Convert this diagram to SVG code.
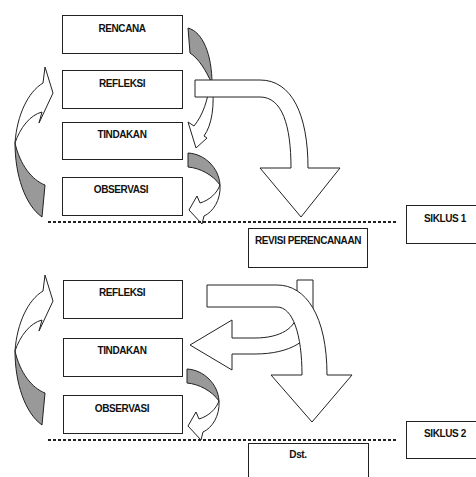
<svg xmlns="http://www.w3.org/2000/svg" xmlns:xlink="http://www.w3.org/1999/xlink" width="476" height="477" viewBox="0 0 476 477">
<style>
.box{fill:#fff;stroke:#222;stroke-width:1}
.lbl{font-family:"Liberation Sans",Arial,sans-serif;font-weight:bold;font-size:10px;fill:#111;text-anchor:middle;letter-spacing:-0.4px}
.w{fill:#fff;stroke:#222;stroke-width:1;stroke-linejoin:round}
.g{fill:#999;stroke:#222;stroke-width:1;stroke-linejoin:round}
.dash{stroke:#222;stroke-width:2;stroke-dasharray:3 2;fill:none}
</style>
<defs>
<g id="leftArrow">
<path class="g" d="M15,143 C15,175 25,205 42,217 L45,185 C32,180 20,165 15,143 Z"/>
<path class="w" d="M15,143 C17,115 28,92 43,83 L45,67 L53,93 L39,123 L42,112 C30,115 20,128 15,143 Z"/>
</g>
<g id="smallTurn">
<path class="g" d="M188,153 C205,154 219,168 220,185 C213,175 200,168 188,167 Z"/>
<path class="w" d="M220,185 C221,200 213,212 204,216 L202,224 L189,210 L197,196 L200,203 C210,200 217,193 220,185 Z"/>
</g>
</defs>
<rect width="476" height="477" fill="#fff"/>

<g id="connectors">
<!-- cycle 1 -->
<use xlink:href="#leftArrow"/>
<path class="g" d="M188,28 C203,32 212,55 212,84 C206,70 198,58 190,53 Z"/>
<path class="w" d="M212,82 C215,105 212,125 204,136 L207,138 L196,148 L188,122 L194,126 C203,115 208,100 210,82 Z"/>
<use xlink:href="#smallTurn"/>
<path class="w" d="M195,80 L260,80 C292,80 308,115 308,168 L340,168 L301,217 L260,168 L291,168 C291,125 282,97 260,97 L195,97 Z"/>
<line class="dash" x1="48" y1="222" x2="398" y2="222"/>
<!-- cycle 2 -->
<use xlink:href="#leftArrow" transform="translate(0,208)"/>
<use xlink:href="#smallTurn" transform="translate(-1,216)"/>
<path class="w" d="M297,280 L313,280 L313,320 C313,340 290,354 255,354 L232,354 L232,370 L190,345 L232,320 L232,338 L255,338 C280,338 297,328 297,312 Z"/>
<path class="w" d="M207,285 L277,285 C306,285 327,316 327,375 L352,375 L312,422 L271,375 L302,375 C302,335 293,307 277,307 L207,307 Z"/>
<line class="dash" x1="48" y1="440" x2="398" y2="440"/>
</g>

<g id="rencana"><rect class="box" x="62.5" y="15.5" width="120" height="38"/><text class="lbl" x="122" y="32">RENCANA</text></g>
<g id="refleksi1"><rect class="box" x="62.5" y="70.5" width="120" height="38"/><text class="lbl" x="122" y="87">REFLEKSI</text></g>
<g id="tindakan1"><rect class="box" x="62.5" y="122.5" width="120" height="37"/><text class="lbl" x="122" y="138">TINDAKAN</text></g>
<g id="observasi1"><rect class="box" x="62.5" y="177.5" width="120" height="38"/><text class="lbl" x="121" y="193">OBSERVASI</text></g>
<g id="siklus1"><rect class="box" x="406.5" y="205.5" width="80" height="38"/><text class="lbl" x="445" y="222">SIKLUS 1</text></g>
<g id="revisi"><rect class="box" x="248.5" y="228.5" width="119" height="39"/><text class="lbl" x="308" y="244">REVISI PERENCANAAN</text></g>

<g id="refleksi2"><rect class="box" x="63.5" y="280.5" width="119" height="38"/><text class="lbl" x="122" y="296">REFLEKSI</text></g>
<g id="tindakan2"><rect class="box" x="63.5" y="338.5" width="119" height="38"/><text class="lbl" x="122" y="354">TINDAKAN</text></g>
<g id="observasi2"><rect class="box" x="63.5" y="395.5" width="119" height="38"/><text class="lbl" x="122" y="412">OBSERVASI</text></g>
<g id="siklus2"><rect class="box" x="406.5" y="421.5" width="80" height="37"/><text class="lbl" x="445" y="437">SIKLUS 2</text></g>
<g id="dst"><rect class="box" x="248.5" y="443.5" width="120" height="40"/><text class="lbl" x="298" y="458">Dst.</text></g>
</svg>
